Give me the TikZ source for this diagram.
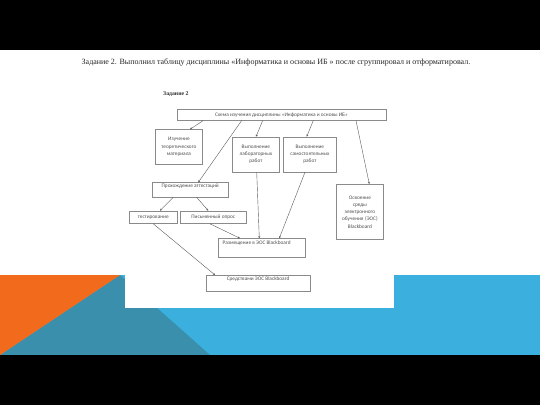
\documentclass[tikz,border=0pt]{standalone}
\usepackage{fontspec}
\setmainfont{Liberation Serif}
\newfontfamily\boxfont{Carlito}
\usetikzlibrary{arrows.meta}
\definecolor{slideblue}{HTML}{3BB0DE}
\definecolor{slideteal}{HTML}{3A8FAD}
\definecolor{slideorange}{HTML}{F26B1D}
\definecolor{boxline}{HTML}{8A8A8A}
\definecolor{boxtext}{HTML}{505050}
\definecolor{arr}{HTML}{5A5A5A}
\tikzset{
  sbox/.style={draw=boxline, line width=0.5pt, anchor=north west, inner sep=0pt,
    font=\boxfont\fontsize{5.3}{7.2}\selectfont, text=boxtext, align=center},
  conn/.style={draw=arr, line width=0.4pt, -{Stealth[length=2.2pt,width=2pt]}}
}
\begin{document}
\begin{tikzpicture}[x=1pt,y=-1pt]
\useasboundingbox (0,0) rectangle (540,405);
% slide background
\fill[white] (0,0) rectangle (540,405);
\fill[black] (0,0) rectangle (540,50);
\fill[slideblue] (0,275) rectangle (540,355);
\fill[slideteal] (0,355) -- (120,275) -- (210,355) -- cycle;
\fill[slideorange] (0,275) -- (120,275) -- (0,355) -- cycle;
\fill[black] (0,355) rectangle (540,405);
\fill[white] (125,80) rectangle (394,308);
% title
\node[font=\fontsize{8}{9.5}\selectfont, text=black!85] (title) at (276,62)
  {Задание 2. Выполнил таблицу дисциплины «Информатика и основы ИБ » после сгруппировал и отформатировал.};
\node[font=\bfseries\fontsize{5.8}{6.5}\selectfont, text=black!80, anchor=west, inner sep=0pt] (zad) at (163,94) {Задание 2};
% boxes
\node[sbox, minimum width=209pt, minimum height=10.7pt] (top) at (176.7,109.3)
  {Схема изучения дисциплины «Информатика и основы ИБ»};
\node[sbox, minimum width=47.3pt, minimum height=34.7pt, text width=45pt] (izuch) at (155,129.3)
  {Изучение\\теоретического\\материала\\[2pt]};
\node[sbox, minimum width=47.3pt, minimum height=35pt, text width=45pt] (lab) at (232,136.7)
  {Выполнение\\лабораторных\\работ\\[2pt]};
\node[sbox, minimum width=52.7pt, minimum height=35pt, text width=50pt] (sam) at (283.3,136.7)
  {Выполнение\\самостоятельных\\работ\\[2pt]};
\node[sbox, minimum width=76.6pt, minimum height=14.6pt] (prokh) at (151.7,182.3)
  {Прохождение аттестаций\\[1pt]};
\node[sbox, minimum width=47.4pt, minimum height=12.6pt] (test) at (129.3,210.7)
  {тестирование};
\node[sbox, minimum width=66pt, minimum height=12.6pt] (pism) at (180,210.7)
  {Письменный опрос};
\node[sbox, minimum width=86.7pt, minimum height=18.4pt, align=left] (razm) at (218.3,238.3)
  {\parbox[c][18.4pt][t]{86.7pt}{\vspace{2pt}\hspace*{4pt}Размещение в ЭОС Blackboard}};
\node[sbox, minimum width=104.3pt, minimum height=15.7pt] (sredst) at (205.7,275)
  {Средствами ЭОС Blackboard\\[2pt]};
\node[sbox, minimum width=47.3pt, minimum height=55.3pt, text width=45pt] (osv) at (336,184)
  {Освоение\\среды\\электронного\\обучения (ЭОС)\\Blackboard\\[10pt]};
% connectors
\draw[conn] ([xshift=26.6pt]top.south west) -- ([xshift=35pt]izuch.north west);
\draw[conn] ([xshift=65pt]top.south west) -- ([xshift=46.6pt]prokh.north west);
\draw[conn] ([xshift=86pt]top.south west) -- ([xshift=24pt]lab.north west);
\draw[conn] ([xshift=136.6pt]top.south west) -- ([xshift=23.4pt]sam.north west);
\draw[conn] ([xshift=179.3pt]top.south west) -- ([xshift=33.3pt]osv.north west);
\draw[conn] ([xshift=21.6pt]prokh.south west) -- ([xshift=30.7pt]test.north west);
\draw[conn] ([xshift=45pt]prokh.south west) -- ([xshift=28.3pt]pism.north west);
\draw[conn] ([xshift=30pt]pism.south west) -- ([xshift=21.7pt]razm.north west);
\draw[conn] ([xshift=24.7pt]lab.south west) -- ([xshift=41pt]razm.north west);
\draw[conn] ([xshift=21.7pt]sam.south west) -- ([xshift=61pt]razm.north west);
\draw[conn] ([xshift=24pt]test.south west) -- ([xshift=9.3pt]sredst.north west);
\end{tikzpicture}
\end{document}
